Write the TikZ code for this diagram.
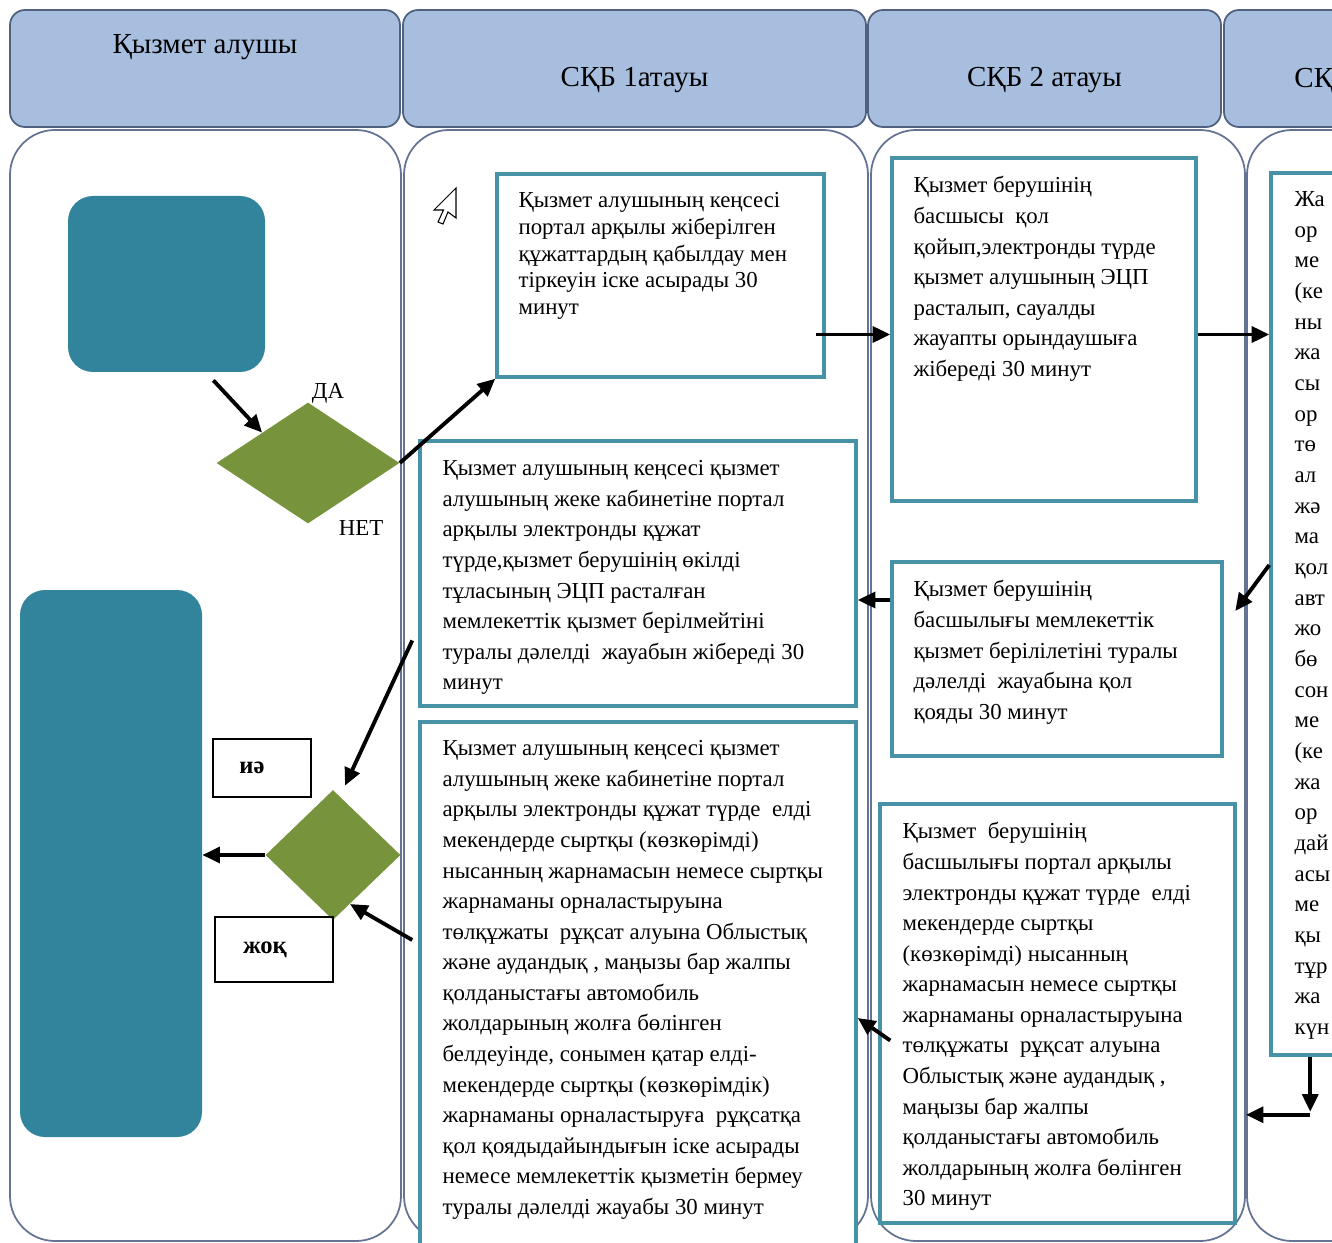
\documentclass[tikz,border=0pt]{standalone}
\usepackage{fontspec}
\setmainfont{Liberation Serif}
\usetikzlibrary{shapes.geometric,arrows.meta,positioning,fit,calc}

\definecolor{hdrfill}{RGB}{167,190,222}
\definecolor{hdrline}{RGB}{80,97,128}
\definecolor{laneline}{RGB}{100,115,148}
\definecolor{boxline}{RGB}{72,146,168}
\definecolor{tealfill}{RGB}{49,132,155}
\definecolor{olive}{RGB}{119,147,60}
\newcommand{\unitpx}{0.02cm}

\tikzset{
  hdr/.style={rectangle, draw=hdrline, fill=hdrfill, line width=1pt, rounded corners=0.3cm, inner sep=0pt},
  hdrtxt/.style={inner sep=0pt, font=\fontsize{16.5}{19}\selectfont},
  lane/.style={rectangle, draw=laneline, line width=1pt, rounded corners=0.9cm, inner sep=0pt},
  proc/.style={rectangle, draw=boxline, line width=2pt, fill=white, inner sep=0pt},
  txt/.style={anchor=north west, inner sep=0pt, align=left, font=\fontsize{13}{17.4}\selectfont},
  blob/.style={rectangle, fill=tealfill, rounded corners=0.5cm, inner sep=0pt},
  decide/.style={diamond, fill=olive, inner sep=0pt},
  tag/.style={rectangle, draw=black, line width=0.8pt, inner sep=0pt},
  tagtxt/.style={inner sep=0pt, font=\fontsize{14}{16}\selectfont\bfseries},
  arr/.style={-{Triangle[length=10pt,width=9pt]}, line width=2.2pt},
}

\begin{document}
\begin{tikzpicture}[x=0.02cm,y=-0.02cm]
\useasboundingbox (0,0) rectangle (1332,1243);
\clip (0,0) rectangle (1332,1243);

% headers
\node[hdr, fit={(10,10) (400,127)}] (hdr1) {};
\node[hdr, fit={(403,10) (866,127)}] (hdr2) {};
\node[hdr, fit={(868,10) (1221,127)}] (hdr3) {};
\node[hdr, fit={(1224,10) (1700,127)}] (hdr4) {};
\node[hdrtxt] (hdr1txt) at ($(hdr1.north)+(0,38)$) {Қызмет алушы};
\node[hdrtxt] (hdr2txt) at ($(hdr2.center)+(0,12)$) {СҚБ 1атауы};
\node[hdrtxt] (hdr3txt) at ($(hdr3.center)+(0,12)$) {СҚБ 2 атауы};
\node[hdrtxt, anchor=west] (hdr4txt) at ($(hdr4.west)+(71,12)$) {СҚ};

% lanes
\node[lane, fit={(10,130) (401,1241)}] (lane1) {};
\node[lane, fit={(404,130) (868,1241)}] (lane2) {};
\node[lane, fit={(871,130) (1245,1241)}] (lane3) {};
\node[lane, fit={(1247,130) (1700,1241)}] (lane4) {};

% service receiver lane
\node[blob, fit={(68,196) (265,372)}] (sq) {};
\node[blob, fit={(20,590) (202,1137)}] (tall) {};
\node[decide, minimum width=183*\unitpx, minimum height=121*\unitpx] (dia1) at (308,463) {};
\node[decide, minimum width=135*\unitpx, minimum height=130*\unitpx] (dia2) at (333,855) {};
\node[inner sep=0pt, font=\fontsize{13}{15}\selectfont] (yeslbl) at (328,393) {ДА};
\node[inner sep=0pt, font=\fontsize{13}{15}\selectfont] (nolbl) at (361,528) {НЕТ};
\node[tag, fit={(213,739) (311,797)}] (tagyes) {};
\node[tagtxt] (tagyestxt) at ($(tagyes.center)+(-10,0)$) {иә};
\node[tag, fit={(215,917) (333,982)}] (tagno) {};
\node[tagtxt] (tagnotxt) at ($(tagno.center)+(-9,0)$) {жоқ};

% cursor
\draw[line width=0.6pt, fill=white] (456,188) -- (456,218) -- (448,212) -- (443,224)
  -- (438,222) -- (443.5,210) -- (434,210) -- cycle;

% process boxes
\node[proc, fit={(497,174) (824,377)}] (boxA) {};
\node[proc, fit={(420,441) (856,706)}] (boxB) {};
\node[proc, fit={(420,722) (856,1260)}] (boxC) {};
\node[proc, fit={(892,158) (1196,501)}] (boxD) {};
\node[proc, fit={(892,562) (1222,756)}] (boxE) {};
\node[proc, fit={(880,804) (1235,1223)}] (boxF) {};
\node[proc, fit={(1271,173) (1700,1055)}] (boxG) {};

\node[txt, font=\fontsize{13}{15.2}\selectfont] (boxAtxt) at ($(boxA.north west)+(23,20)$)
  {Қызмет алушының кеңсесі\\портал арқылы жіберілген\\құжаттардың қабылдау мен\\тіркеуін іске асырады 30\\минут};
\node[txt] (boxBtxt) at ($(boxB.north west)+(24,21)$)
  {Қызмет алушының кеңсесі қызмет\\алушының жеке кабинетіне портал\\арқылы электронды құжат\\түрде,қызмет берушінің өкілді\\тұласының ЭЦП расталған\\мемлекеттік қызмет берілмейтіні\\туралы дәлелді \ жауабын жібереді 30\\минут};
\node[txt] (boxCtxt) at ($(boxC.north west)+(24,20)$)
  {Қызмет алушының кеңсесі қызмет\\алушының жеке кабинетіне портал\\арқылы электронды құжат түрде \ елді\\мекендерде сыртқы (көзкөрімді)\\нысанның жарнамасын немесе сыртқы\\жарнаманы орналастыруына\\төлқұжаты \ рұқсат алуына Облыстық\\және аудандық , маңызы бар жалпы\\қолданыстағы автомобиль\\жолдарының жолға бөлінген\\белдеуінде, сонымен қатар елді-\\мекендерде сыртқы (көзкөрімдік)\\жарнаманы орналастыруға \ рұқсатқа\\қол қоядыдайындығын іске асырады\\немесе мемлекеттік қызметін бермеу\\туралы дәлелді жауабы 30 минут};
\node[txt] (boxDtxt) at ($(boxD.north west)+(23,20)$)
  {Қызмет берушінің\\басшысы \ қол\\қойып,электронды түрде\\қызмет алушының ЭЦП\\расталып, сауалды\\жауапты орындаушыға\\жібереді 30 минут};
\node[txt] (boxEtxt) at ($(boxE.north west)+(23,20)$)
  {Қызмет берушінің\\басшылығы мемлекеттік\\қызмет берілілетіні туралы\\дәлелді \ жауабына қол\\қояды 30 минут};
\node[txt] (boxFtxt) at ($(boxF.north west)+(24,20)$)
  {Қызмет \ берушінің\\басшылығы портал арқылы\\электронды құжат түрде \ елді\\мекендерде сыртқы\\(көзкөрімді) нысанның\\жарнамасын немесе сыртқы\\жарнаманы орналастыруына\\төлқұжаты \ рұқсат алуына\\Облыстық және аудандық ,\\маңызы бар жалпы\\қолданыстағы автомобиль\\жолдарының жолға бөлінген\\30 минут};
\node[txt, font=\fontsize{13}{17.45}\selectfont] (boxGtxt) at ($(boxG.north west)+(25,20)$)
  {Жа\\ор\\ме\\(ке\\ны\\жа\\сы\\ор\\тө\\ал\\жә\\ма\\қол\\авт\\жо\\бө\\сон\\ме\\(ке\\жа\\ор\\дай\\асы\\ме\\қы\\тұр\\жа\\күн};

% connectors
\draw[arr] ($(sq.south east)+(-52,8)$) -- (dia1.north west);
\draw[arr] (dia1.east) -- (boxA.south west);
\draw[arr] ($(boxA.east |- boxD.west)+(-10,5)$) -- ($(boxD.west)+(0,5)$);
\draw[arr] ($(boxD.east)+(0,5)$) -- ($(boxG.west |- boxD.east)+(0,5)$);
\draw[arr] ($(boxG.west)+(0,-49)$) -- ++(-34,46);
\draw[arr] ($(boxE.west)+(0,-59)$) -- ($(boxB.east |- boxE.west)+(0,-59)$);
\draw[arr] ($(boxF.west)+(12,27)$) -- ($(boxC.east)+(0,27)$);
\coordinate (turn) at ($(boxG.south west)+(41,58)$);
\draw[arr] ($(boxG.south west)+(41,0)$) -- ($(turn)+(0,-3)$);
\draw[arr] (turn) -- (lane3.east |- turn);
\draw[arr] ($(boxB.west)+(-6,67)$) -- ($(dia2.north)+(12,-4)$);
\draw[arr] ($(boxC.west)+(-6,-51)$) -- ($(dia2.south east)!0.5!(dia2.south)$);
\draw[arr] (dia2.west) -- (tall.east |- dia2.west);
\end{tikzpicture}
\end{document}
